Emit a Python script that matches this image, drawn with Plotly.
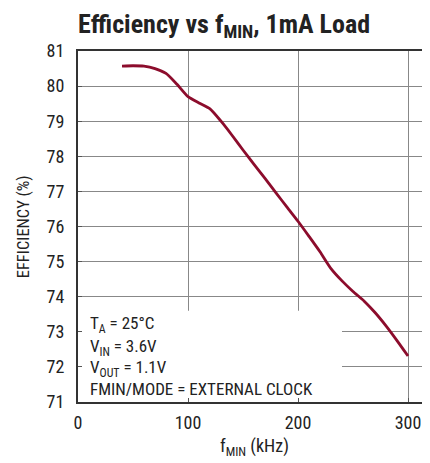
import plotly.graph_objects as go

freq_khz = [40, 50, 60, 70, 80, 90, 100, 110, 120, 130, 140, 150, 160, 170, 180,
            190, 200, 210, 220, 230, 240, 250, 260, 270, 280, 290, 300]
efficiency = [80.57, 80.58, 80.57, 80.5, 80.36, 80.05, 79.7, 79.52, 79.35, 79.0,
              78.6, 78.18, 77.77, 77.37, 76.96, 76.55, 76.15, 75.72, 75.28, 74.8,
              74.45, 74.15, 73.88, 73.55, 73.17, 72.75, 72.31]

x_ticks = [0, 100, 200, 300]
y_ticks = [71, 72, 73, 74, 75, 76, 77, 78, 79, 80, 81]
notes = ["T<sub>A</sub> = 25°C", "V<sub>IN</sub> = 3.6V", "V<sub>OUT</sub> = 1.1V",
         "FMIN/MODE = EXTERNAL CLOCK"]
note_y = [73.2, 72.56, 71.95, 71.36]

FONT = "Liberation Sans Narrow, Roboto Condensed, Arial Narrow, Liberation Sans, sans-serif"
TXT = "#222"

fig = go.Figure()
fig.add_trace(go.Scatter(x=freq_khz, y=efficiency, mode="lines",
                         line=dict(color="#8c0c2c", width=2.8, shape="spline", smoothing=0.6),
                         hoverinfo="skip", showlegend=False))

# white patch masking the grid behind the condition text
fig.add_shape(type="rect", xref="x", yref="y", x0=0, x1=240, y0=71, y1=73.6,
              fillcolor="white", line=dict(width=0), layer="between")

for t, yy in zip(notes, note_y):
    fig.add_annotation(text=t, xref="paper", yref="y", x=0.028, y=yy,
                       xanchor="left", yanchor="middle", showarrow=False,
                       font=dict(family=FONT, size=17, color=TXT))

# axis titles
fig.add_annotation(text="EFFICIENCY (%)", xref="paper", yref="paper", x=-0.154, y=0.5,
                   xanchor="center", yanchor="middle", textangle=-90, showarrow=False,
                   font=dict(family=FONT, size=16.5, color=TXT))
fig.add_annotation(text="f<sub>MIN</sub> (kHz)", xref="paper", yref="paper", x=0.5, y=-0.128,
                   xanchor="center", yanchor="middle", showarrow=False,
                   font=dict(family=FONT, size=18, color=TXT))

fig.update_layout(
    width=422, height=455,
    margin=dict(l=70, r=0, t=43, b=61),
    paper_bgcolor="white", plot_bgcolor="white",
    title=dict(text="<b>Efficiency vs f<sub>MIN</sub>, 1mA Load</b>", x=0.512, xanchor="center",
               y=0.966, yanchor="middle", font=dict(family=FONT, size=26, color=TXT)),
    xaxis=dict(range=[0, 320], tickvals=x_ticks, showgrid=True, gridcolor="#888", gridwidth=1,
               showline=True, linecolor="#333", linewidth=2, mirror=True,
               ticks="inside", ticklen=4, tickcolor="#555", zeroline=False,
               ticklabelstandoff=3,
               tickfont=dict(family=FONT, size=18, color=TXT)),
    yaxis=dict(range=[71, 81], tickvals=y_ticks, showgrid=True, gridcolor="#888", gridwidth=1,
               showline=True, linecolor="#333", linewidth=2, mirror=False,
               ticks="inside", ticklen=4, tickcolor="#555", zeroline=False,
               ticklabelstandoff=8,
               tickfont=dict(family=FONT, size=18, color=TXT)),
)

fig.write_html("out.html")
